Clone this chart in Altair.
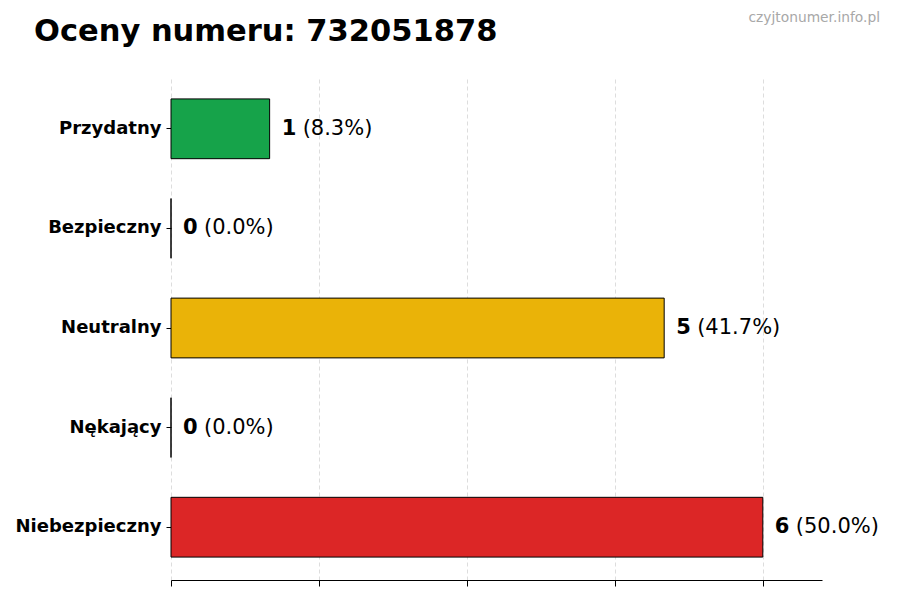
import altair as alt
import pandas as pd

categories = ["Przydatny", "Bezpieczny", "Neutralny", "Nękający", "Niebezpieczny"]
counts = [1, 0, 5, 0, 6]
percents = ["(8.3%)", "(0.0%)", "(41.7%)", "(0.0%)", "(50.0%)"]
colors = ["#16a34a", "#9ca3af", "#eab308", "#f97316", "#dc2626"]
x_ticks = [0, 1.5, 3, 4.5, 6]
title_text = "Oceny numeru: 732051878"
watermark = "czyjtonumer.info.pl"

df = pd.DataFrame({
    "cat": categories,
    "count": counts,
    "num": [str(c) for c in counts],
    "pct": percents,
    "color": colors,
})

FONT = "DejaVu Sans"
W, H = 651, 504

x_scale = alt.Scale(domain=[0, 6.6], nice=False, zero=True)
y_scale = alt.Scale(domain=categories, paddingInner=0.4, paddingOuter=0.23)

base = alt.Chart(df)

bars = base.mark_bar(stroke="black", strokeWidth=1, opacity=1).encode(
    x=alt.X("count:Q", scale=x_scale,
            axis=alt.Axis(values=x_ticks, labels=False, title=None, grid=True,
                          gridDash=[4, 3], gridColor="#d4d4d4", gridWidth=0.8,
                          domainColor="black", domainWidth=1,
                          tickColor="black", tickSize=6, tickWidth=1)),
    y=alt.Y("cat:N", scale=y_scale, sort=categories,
            axis=alt.Axis(title=None, domain=False, tickColor="black", tickSize=5,
                          labelFont=FONT, labelFontSize=18, labelFontWeight="bold",
                          labelColor="black", labelPadding=5, grid=False)),
    fill=alt.Color("color:N", scale=None),
)

num_text = base.mark_text(align="left", baseline="middle", dx=12, font=FONT,
                          fontSize=21, fontWeight="bold", color="black").encode(
    x=alt.X("count:Q", scale=x_scale),
    y=alt.Y("cat:N", scale=y_scale, sort=categories),
    text="num:N",
)

pct_text = base.mark_text(align="left", baseline="middle", dx=33, font=FONT,
                          fontSize=21, color="black").encode(
    x=alt.X("count:Q", scale=x_scale),
    y=alt.Y("cat:N", scale=y_scale, sort=categories),
    text="pct:N",
)

title = alt.Chart(pd.DataFrame({"t": [title_text]})).mark_text(
    align="left", baseline="alphabetic", font=FONT, fontSize=30.5,
    fontWeight="bold", color="black").encode(
    x=alt.value(-137), y=alt.value(-35), text="t:N")

wm = alt.Chart(pd.DataFrame({"t": [watermark]})).mark_text(
    align="right", baseline="alphabetic", font=FONT, fontSize=13.8,
    color="#a8a8a8").encode(
    x=alt.value(709), y=alt.value(-54), text="t:N")

chart = alt.layer(bars, num_text, pct_text, title, wm).properties(
    width=W, height=H,
    background="white",
    autosize=alt.AutoSizeParams(type="none"),
    padding={"left": 163, "top": 68, "right": 70, "bottom": 20},
).configure_view(strokeWidth=0, stroke="transparent")

chart.save("out.html", embed_options={"renderer": "svg", "actions": False})
